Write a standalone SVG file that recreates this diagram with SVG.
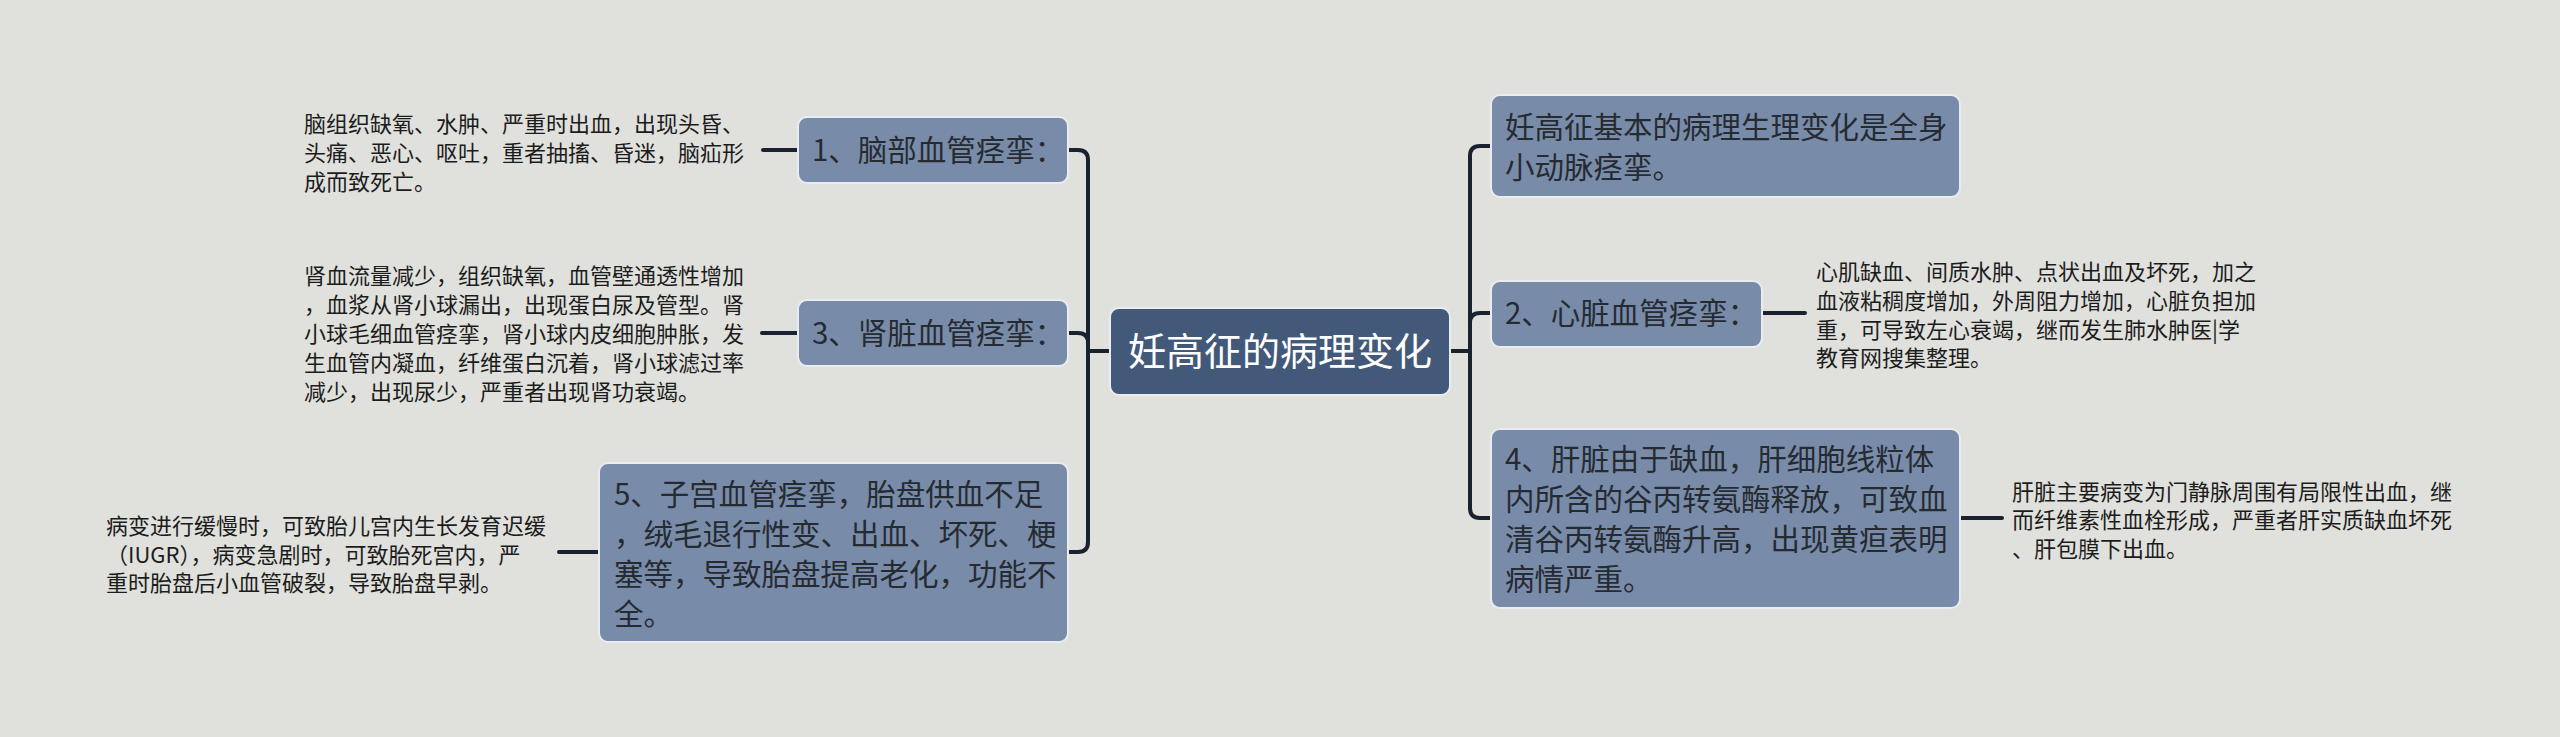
<svg xmlns="http://www.w3.org/2000/svg" width="2560" height="737" viewBox="0 0 2560 737">
<style>
.bg{fill:#e0e1dc}
.node rect{fill:#788ca9;stroke:#e9edf2;stroke-width:2}
.root rect{fill:#43597a;stroke:#e9edf2;stroke-width:2}
.nt{font-family:"Noto Sans CJK SC","Noto Sans",sans-serif;font-size:29.5px;fill:#262a31}
.rt{font-family:"Noto Sans CJK SC","Noto Sans",sans-serif;font-size:38px;fill:#ffffff}
.lt{font-family:"Noto Sans CJK SC","Noto Sans",sans-serif;font-size:22px;fill:#1c1c1c}
.conn path{fill:none;stroke:#1a2230;stroke-width:4;stroke-linecap:round}
</style>
<rect class="bg" x="0" y="0" width="2560" height="737"/>
<g id="connectors" class="conn">
<path d="M1110 351 H1088"/>
<path d="M1088 351 V160 Q1088 150 1078 150 H1068"/>
<path d="M1088 351 V343 Q1088 333 1078 333 H1068"/>
<path d="M1088 351 V542 Q1088 552 1078 552 H1068"/>
<path d="M1450 351 H1470"/>
<path d="M1470 351 V156 Q1470 146 1480 146 H1491"/>
<path d="M1470 351 V323 Q1470 313 1480 313 H1491"/>
<path d="M1470 351 V508 Q1470 518 1480 518 H1491"/>
<path d="M797 150 H763"/>
<path d="M797 333 H762"/>
<path d="M599 552 H559"/>
<path d="M1762 313 H1805"/>
<path d="M1960 518 H2002"/>
</g>
<g id="root" class="root">
<rect x="1110" y="308" width="340" height="87" rx="9"/>
<text class="rt" x="1280" y="365" text-anchor="middle">妊高征的病理变化</text>
</g>
<g id="n1" class="node">
<rect x="798" y="117" width="270" height="66" rx="9"/>
<text class="nt" x="812" y="161">1、脑部血管痉挛：</text>
</g>
<g id="n3" class="node">
<rect x="798" y="300" width="270" height="66" rx="9"/>
<text class="nt" x="812" y="344">3、肾脏血管痉挛：</text>
</g>
<g id="n5" class="node">
<rect x="599" y="463" width="469" height="179" rx="9"/>
<text class="nt" x="614" y="505">5、子宫血管痉挛，胎盘供血不足</text>
<text class="nt" x="614" y="545">，绒毛退行性变、出血、坏死、梗</text>
<text class="nt" x="614" y="585">塞等，导致胎盘提高老化，功能不</text>
<text class="nt" x="614" y="625">全。</text>
</g>
<g id="n0" class="node">
<rect x="1491" y="95" width="469" height="102" rx="9"/>
<text class="nt" x="1505" y="138">妊高征基本的病理生理变化是全身</text>
<text class="nt" x="1505" y="178">小动脉痉挛。</text>
</g>
<g id="n2" class="node">
<rect x="1491" y="281" width="271" height="66" rx="9"/>
<text class="nt" x="1505" y="324">2、心脏血管痉挛：</text>
</g>
<g id="n4" class="node">
<rect x="1491" y="429" width="469" height="179" rx="9"/>
<text class="nt" x="1505" y="470">4、肝脏由于缺血，肝细胞线粒体</text>
<text class="nt" x="1505" y="510">内所含的谷丙转氨酶释放，可致血</text>
<text class="nt" x="1505" y="550">清谷丙转氨酶升高，出现黄疸表明</text>
<text class="nt" x="1505" y="590">病情严重。</text>
</g>
<g id="leaf1">
<text class="lt" x="304" y="132">脑组织缺氧、水肿、严重时出血，出现头昏、</text>
<text class="lt" x="304" y="161">头痛、恶心、呕吐，重者抽搐、昏迷，脑疝形</text>
<text class="lt" x="304" y="190">成而致死亡。</text>
</g>
<g id="leaf3">
<text class="lt" x="304" y="284">肾血流量减少，组织缺氧，血管壁通透性增加</text>
<text class="lt" x="304" y="313">，血浆从肾小球漏出，出现蛋白尿及管型。肾</text>
<text class="lt" x="304" y="342">小球毛细血管痉挛，肾小球内皮细胞肿胀，发</text>
<text class="lt" x="304" y="371">生血管内凝血，纤维蛋白沉着，肾小球滤过率</text>
<text class="lt" x="304" y="400">减少，出现尿少，严重者出现肾功衰竭。</text>
</g>
<g id="leaf5">
<text class="lt" x="106" y="534">病变进行缓慢时，可致胎儿宫内生长发育迟缓</text>
<text class="lt" x="106" y="563">（IUGR），病变急剧时，可致胎死宫内，严</text>
<text class="lt" x="106" y="591">重时胎盘后小血管破裂，导致胎盘早剥。</text>
</g>
<g id="leaf2">
<text class="lt" x="1816" y="280">心肌缺血、间质水肿、点状出血及坏死，加之</text>
<text class="lt" x="1816" y="309">血液粘稠度增加，外周阻力增加，心脏负担加</text>
<text class="lt" x="1816" y="338">重，可导致左心衰竭，继而发生肺水肿医|学</text>
<text class="lt" x="1816" y="366">教育网搜集整理。</text>
</g>
<g id="leaf4">
<text class="lt" x="2012" y="500">肝脏主要病变为门静脉周围有局限性出血，继</text>
<text class="lt" x="2012" y="528">而纤维素性血栓形成，严重者肝实质缺血坏死</text>
<text class="lt" x="2012" y="557">、肝包膜下出血。</text>
</g>
</svg>
